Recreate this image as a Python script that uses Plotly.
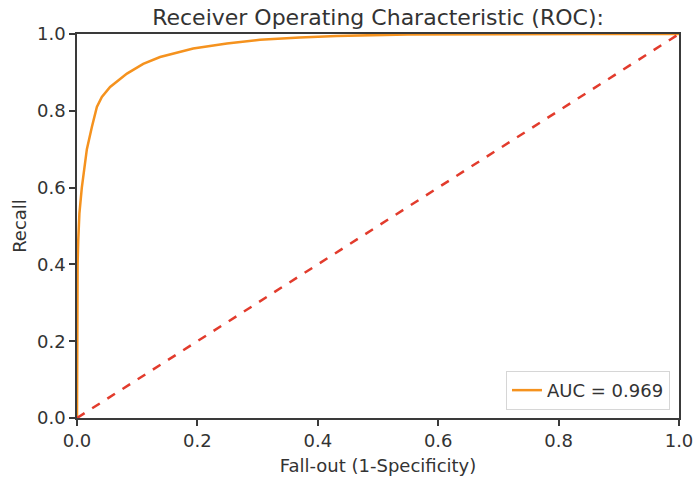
import plotly.graph_objects as go

# ROC curve points (false positive rate vs. true positive rate)
fpr = [0.0, 0.0, 0.0005, 0.001, 0.002, 0.004, 0.008, 0.012, 0.0164, 0.0247, 0.033,
       0.0413, 0.055, 0.083, 0.110, 0.138, 0.193, 0.249, 0.304, 0.37, 0.431, 0.55,
       0.7, 0.85, 1.0]
tpr = [0.0, 0.30, 0.36, 0.40, 0.46, 0.533, 0.60, 0.655, 0.70, 0.758, 0.81,
       0.836, 0.862, 0.897, 0.922, 0.94, 0.962, 0.975, 0.985, 0.991, 0.995, 0.999,
       1.0, 1.0, 1.0]
auc_value = 0.969

# Chance line
chance_x = [0.0, 1.0]
chance_y = [0.0, 1.0]

x_ticks = [0.0, 0.2, 0.4, 0.6, 0.8, 1.0]
y_ticks = [0.0, 0.2, 0.4, 0.6, 0.8, 1.0]

FONT = "DejaVu Sans"
TEXT = "#333333"

fig = go.Figure()
fig.add_trace(go.Scatter(
    x=fpr, y=tpr, mode="lines",
    line=dict(color="#f5921e", width=2.5),
    name=f"AUC = {auc_value:.3f}",
))
fig.add_trace(go.Scatter(
    x=chance_x, y=chance_y, mode="lines",
    line=dict(color="#e23b2c", width=2.5, dash="dash"),
    showlegend=False,
))

axis_common = dict(
    range=[0, 1], showgrid=False, zeroline=False, automargin=False,
    ticklabeloverflow="allow",
    showline=True, mirror=True, linecolor="#3a3a3a", linewidth=1.5,
    ticks="outside", ticklen=6, tickwidth=1.5, tickcolor="#3a3a3a",
    tickformat=".1f", tickfont=dict(family=FONT, size=18, color=TEXT),
)

fig.update_layout(
    width=693, height=477,
    margin=dict(l=77, r=14, t=34, b=59),
    paper_bgcolor="white", plot_bgcolor="white",
    title=dict(text="Receiver Operating Characteristic (ROC):",
               x=0.5455, xanchor="center", y=0.964, yanchor="middle",
               font=dict(family=FONT, size=22, color=TEXT)),
    xaxis=dict(tickvals=x_ticks,
               title=dict(text="Fall-out (1-Specificity)", standoff=9,
                          font=dict(family=FONT, size=18, color=TEXT)),
               **axis_common),
    yaxis=dict(tickvals=y_ticks,
               title=dict(text="Recall", standoff=6,
                          font=dict(family=FONT, size=18, color=TEXT)),
               **axis_common),
    legend=dict(x=0.985, y=0.021, xanchor="right", yanchor="bottom",
                bgcolor="white", bordercolor="#d6d6d6", borderwidth=1,
                font=dict(family=FONT, size=18, color=TEXT)),
    showlegend=True,
)

fig.write_html("out.html")
